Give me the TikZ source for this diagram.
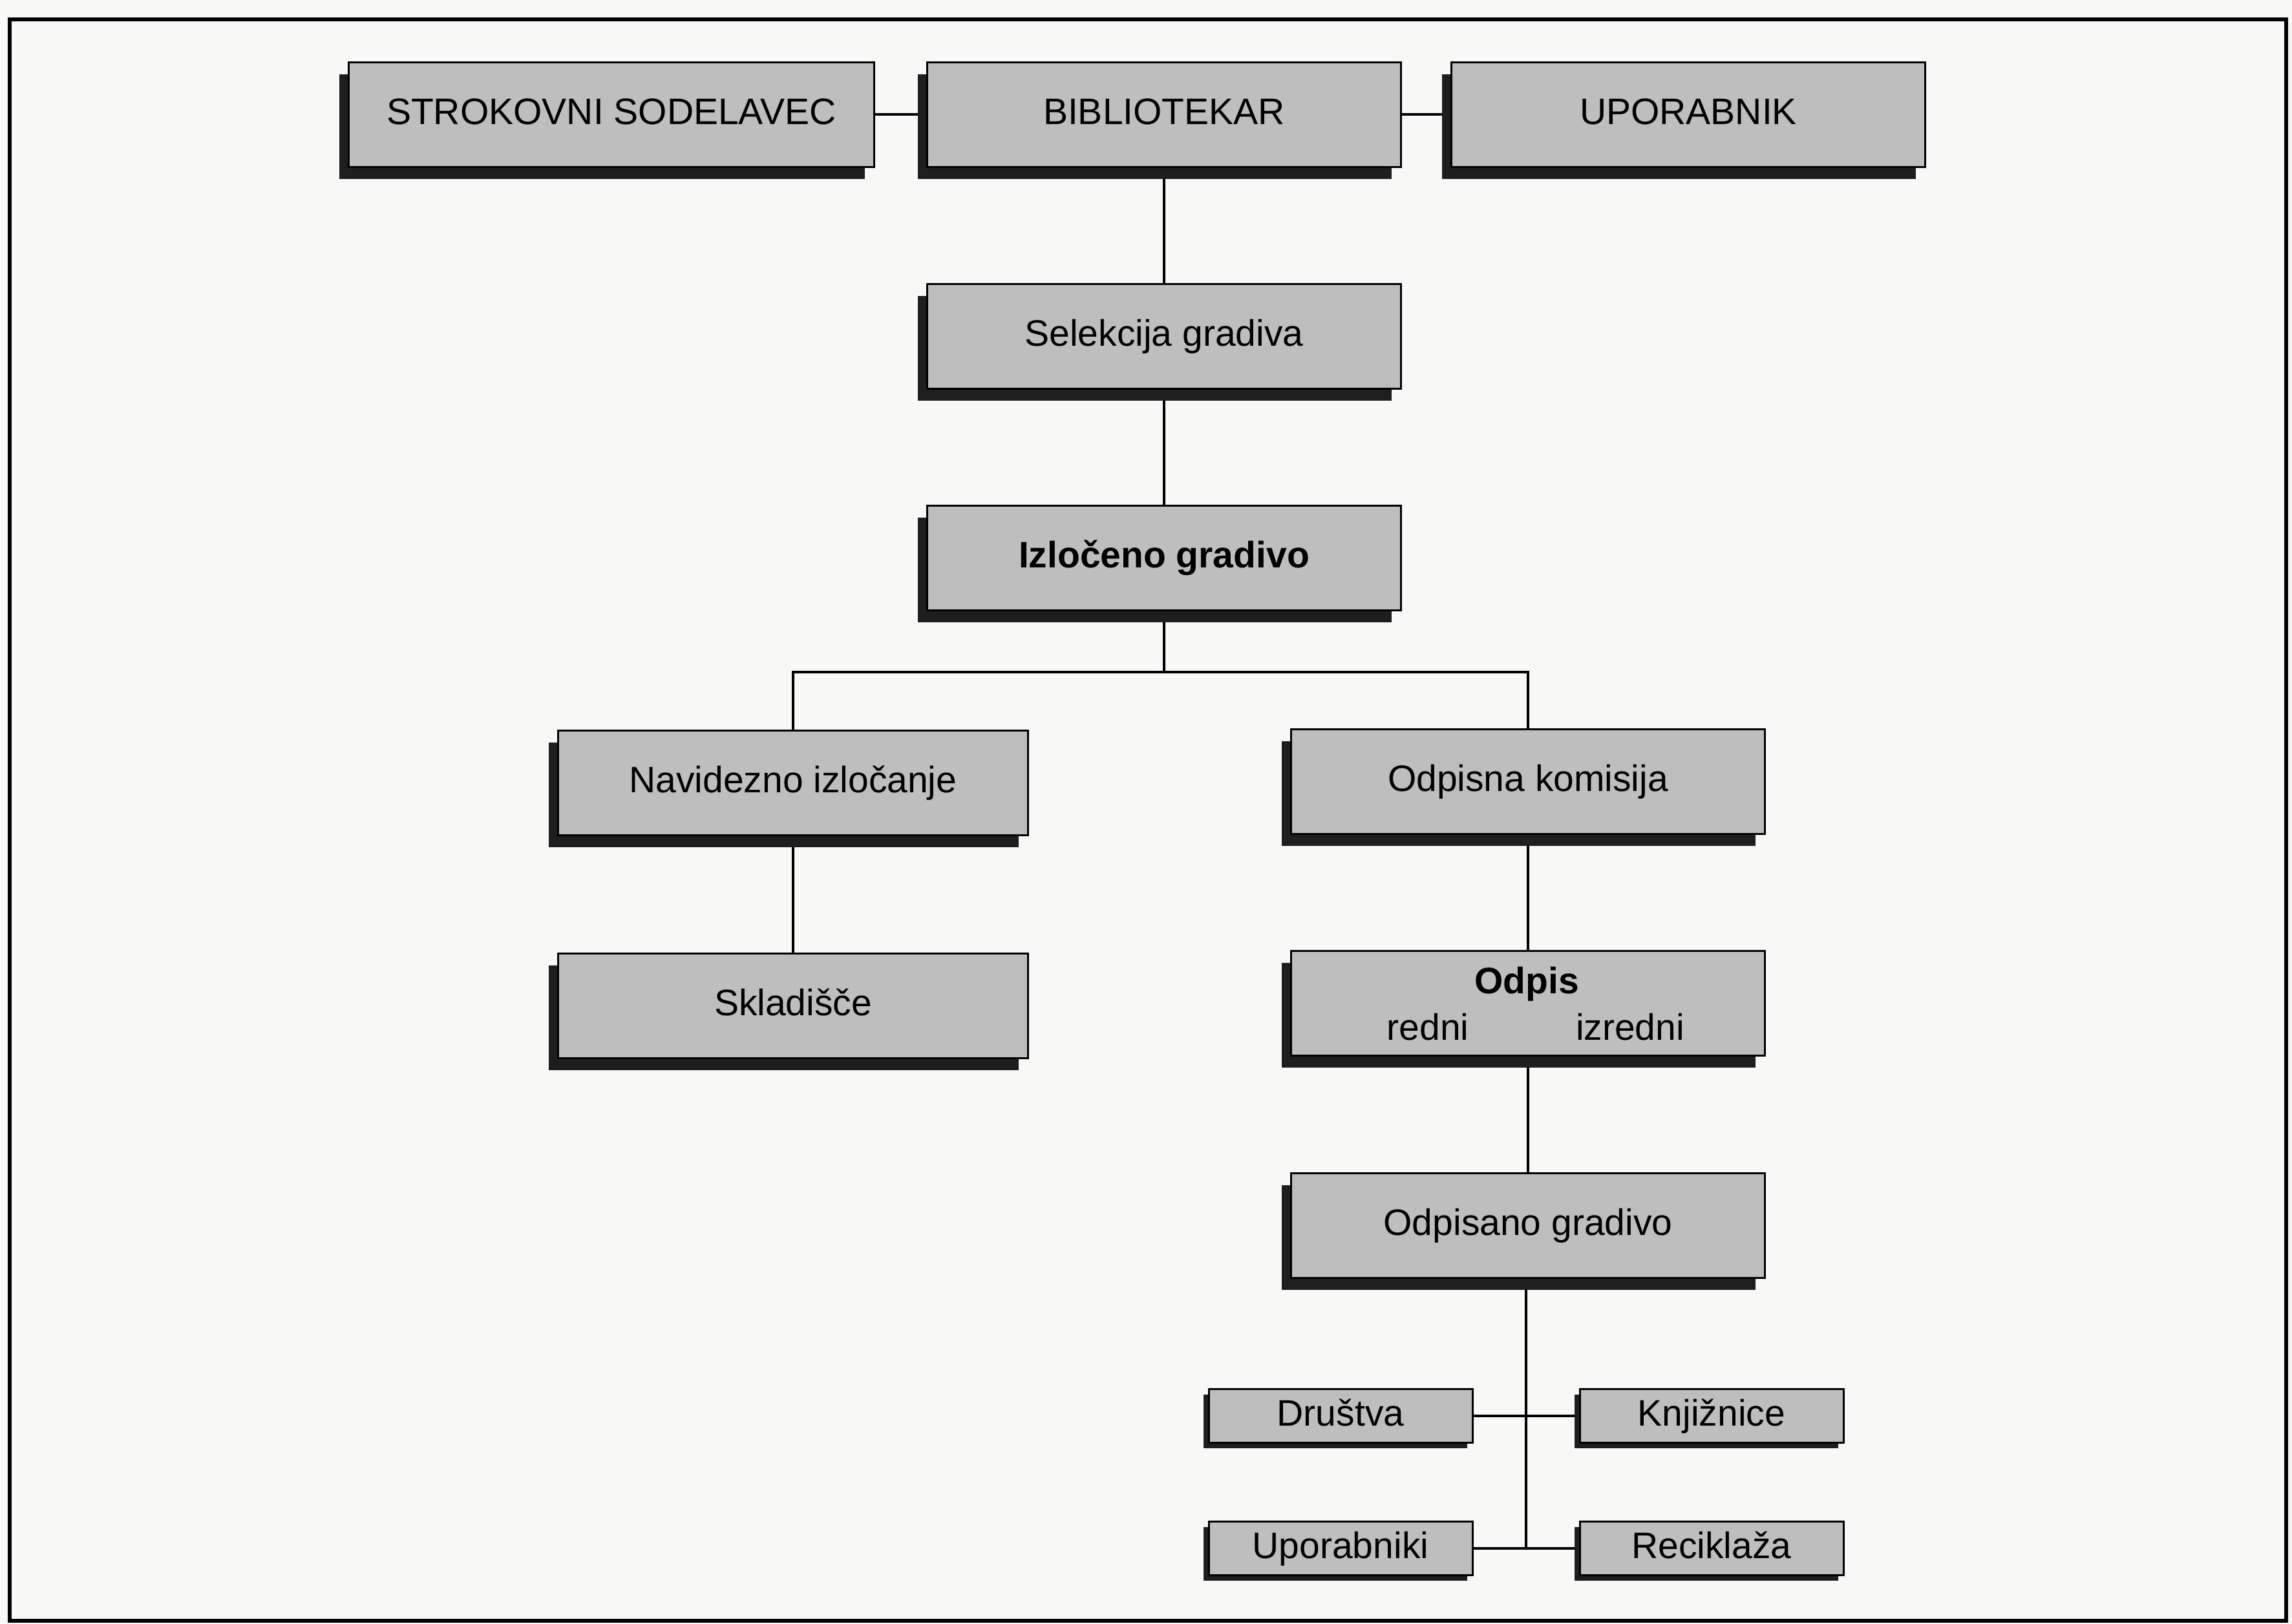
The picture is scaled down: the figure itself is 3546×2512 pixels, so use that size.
\documentclass[tikz,border=0pt]{standalone}
\usepackage{fontspec}
\setmainfont{Liberation Sans}
\usetikzlibrary{shadows,backgrounds}
\definecolor{boxgray}{HTML}{BEBEBE}
\definecolor{shadowc}{HTML}{1E1E1E}
\definecolor{paper}{HTML}{F8F8F6}
\tikzset{
  boxfont/.style={font=\fontsize{57}{62}\selectfont, text height=42pt, text depth=12pt},
  bigbox/.style={draw=black, line width=3pt, fill=boxgray, minimum width=733pt,
    minimum height=162pt, inner sep=0pt, boxfont,
    general shadow={shadow xshift=-15pt, shadow yshift=-19pt, fill=shadowc}},
  smallbox/.style={draw=black, line width=3pt, fill=boxgray, minimum width=408pt,
    minimum height=83pt, inner sep=0pt, boxfont,
    general shadow={shadow xshift=-8pt, shadow yshift=-8pt, fill=shadowc}},
  conn/.style={draw=black, line width=3.5pt},
  txt/.style={inner sep=0pt, boxfont}
}
\begin{document}
\begin{tikzpicture}[x=1pt,y=-1pt]
\useasboundingbox (0,0) rectangle (3546,2512);

% top row
\node[bigbox, minimum width=813pt] (strok) at (946,177) {STROKOVNI SODELAVEC};
\node[bigbox] (bib) at (1801,177) {BIBLIOTEKAR};
\node[bigbox] (upo) at (2612,177) {UPORABNIK};

% main column
\node[bigbox] (sel) at (1801,520) {Selekcija gradiva};
\node[bigbox] (izl) at (1801,863) {\bfseries Izločeno gradivo};

% left branch
\node[bigbox, minimum width=727pt] (nav) at (1227,1211) {Navidezno izločanje};
\node[bigbox, minimum width=727pt] (skl) at (1227,1556) {Skladišče};

% right branch
\node[bigbox] (odk) at (2364,1209) {Odpisna komisija};
\node[bigbox] (odp) at (2364,1552) {};
\node[txt] (odpT) at (2362,1522) {\bfseries Odpis};
\node[txt] (redni) at (2209,1594) {redni};
\node[txt] (izredni) at (2522,1594) {izredni};
\node[bigbox] (ods) at (2364,1896) {Odpisano gradivo};

% bottom boxes
\node[smallbox] (drus) at (2074,2191) {Društva};
\node[smallbox] (knj) at (2648,2191) {Knjižnice};
\node[smallbox] (upor) at (2074,2396) {Uporabniki};
\node[smallbox] (rec) at (2648,2396) {Reciklaža};

\begin{scope}[on background layer]
  \fill[paper] (0,0) rectangle (3546,2512);
  \draw[line width=6pt] (15,30) rectangle (3537,2508);
  \draw[conn] (strok.east) -- (bib.west);
  \draw[conn] (bib.east) -- (upo.west);
  \draw[conn] (bib.south) -- (sel.north);
  \draw[conn] (sel.south) -- (izl.north);
  \coordinate (br) at (1801,1040);
  \draw[conn] (izl.south) -- (br);
  \draw[conn] (nav.north) |- (br) -| (odk.north);
  \draw[conn] (nav.south) -- (skl.north);
  \draw[conn] (odk.south) -- (odp.north);
  \draw[conn] (odp.south) -- (ods.north);
  \coordinate (bot) at (2361,2396);
  \draw[conn] (ods.south -| bot) -- (bot);
  \draw[conn] (drus.east) -- (knj.west);
  \draw[conn] (upor.east) -- (rec.west);
\end{scope}
\end{tikzpicture}
\end{document}
